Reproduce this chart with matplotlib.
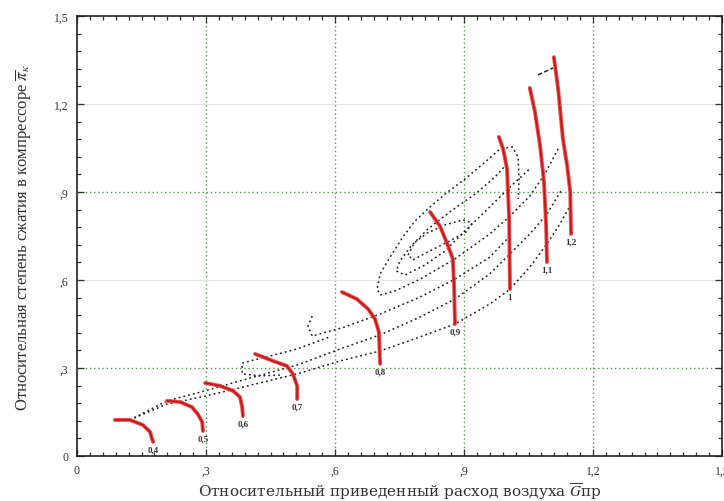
import numpy as np
import matplotlib
matplotlib.use("Agg")
import matplotlib.pyplot as plt

plt.rcParams['font.family'] = ['Liberation Serif', 'DejaVu Serif']
plt.rcParams['mathtext.fontset'] = 'stix'

# iso-speed lines (relative speed)
speed_labels = ['0,4', '0,5', '0,6', '0,7', '0,8', '0,9', '1', '1,1', '1,2']
speed_x = [
    [0.088, 0.123, 0.153, 0.170, 0.174, 0.177],
    [0.209, 0.240, 0.267, 0.281, 0.291, 0.293],
    [0.298, 0.333, 0.363, 0.379, 0.384, 0.386],
    [0.414, 0.456, 0.488, 0.502, 0.512, 0.512],
    [0.616, 0.651, 0.677, 0.693, 0.702, 0.705],
    [0.821, 0.844, 0.863, 0.874, 0.877, 0.879],
    [0.981, 0.991, 1.000, 1.005, 1.007],
    [1.053, 1.065, 1.077, 1.086, 1.091, 1.093],
    [1.109, 1.119, 1.130, 1.140, 1.147, 1.149],
]
speed_y = [
    [0.123, 0.123, 0.106, 0.082, 0.061, 0.048],
    [0.188, 0.184, 0.167, 0.143, 0.116, 0.085],
    [0.249, 0.239, 0.222, 0.201, 0.167, 0.136],
    [0.348, 0.324, 0.307, 0.280, 0.239, 0.194],
    [0.559, 0.535, 0.501, 0.467, 0.423, 0.314],
    [0.832, 0.784, 0.716, 0.672, 0.580, 0.450],
    [1.088, 1.047, 0.979, 0.808, 0.569],
    [1.255, 1.173, 1.057, 0.934, 0.784, 0.661],
    [1.360, 1.251, 1.081, 0.989, 0.900, 0.757],
]

# efficiency contours (dotted)
outer_x = [1.119, 1.088, 1.053, 1.007, 0.960, 0.879, 0.798, 0.740, 0.705, 0.698, 0.705,
           0.728, 0.758, 0.786, 0.821, 0.856, 0.902, 0.949, 0.984, 1.012, 1.026, 1.028, 1.026]
outer_y = [1.047, 0.961, 0.886, 0.818, 0.757, 0.672, 0.603, 0.563, 0.549, 0.569, 0.621,
           0.678, 0.747, 0.801, 0.849, 0.893, 0.944, 1.002, 1.047, 1.054, 1.019, 0.944, 0.876]
mid_x = [1.000, 0.972, 0.926, 0.867, 0.816, 0.779, 0.751, 0.742, 0.763, 0.809, 0.856,
         0.902, 0.960, 1.007, 1.053]
mid_y = [0.996, 0.951, 0.893, 0.832, 0.774, 0.719, 0.665, 0.631, 0.617, 0.651, 0.699,
         0.767, 0.849, 0.917, 0.979]
inner_x = [0.770, 0.784, 0.814, 0.856, 0.898, 0.919, 0.905, 0.863, 0.816, 0.781, 0.770]
inner_y = [0.685, 0.726, 0.760, 0.788, 0.805, 0.794, 0.764, 0.730, 0.696, 0.668, 0.685]
low1_x = [0.123, 0.209, 0.298, 0.386, 0.512, 0.612, 0.705, 0.798, 0.879, 0.960, 1.007,
          1.053, 1.093, 1.123, 1.149]
low1_y = [0.123, 0.177, 0.204, 0.235, 0.280, 0.324, 0.358, 0.406, 0.450, 0.518, 0.569,
          0.644, 0.723, 0.791, 0.859]
low2_x = [0.123, 0.209, 0.298, 0.386, 0.512, 0.612, 0.705, 0.798, 0.879, 0.960, 1.007,
          1.053, 1.093, 1.128]
low2_y = [0.123, 0.188, 0.222, 0.259, 0.310, 0.365, 0.413, 0.474, 0.535, 0.621, 0.689,
          0.757, 0.825, 0.910]
low3_x = [0.472, 0.426, 0.384, 0.384, 0.449, 0.512, 0.588]
low3_y = [0.276, 0.273, 0.280, 0.317, 0.341, 0.365, 0.406]
low4_x = [0.547, 0.537, 0.547, 0.623, 0.705, 0.798, 0.879, 0.960, 1.007]
low4_y = [0.477, 0.443, 0.409, 0.440, 0.484, 0.542, 0.603, 0.678, 0.750]
surge_x = [1.072, 1.107]
surge_y = [1.299, 1.323]

ticks = [0, 0.3, 0.6, 0.9, 1.2, 1.5]
tick_labels = ['0', ',3', ',6', ',9', '1,2', '1,5']

fig = plt.figure(figsize=(7.24, 5.02), dpi=100)
ax = fig.add_axes([77/724, 45/502, 645/724, 440/502])

green = '#4f9a4f'
for v in [0.3, 0.6, 0.9, 1.2]:
    ax.axvline(v, color=green, lw=1.0, ls=(0, (1, 2)), zorder=0)
for v in [0.3, 0.9]:
    ax.axhline(v, color=green, lw=1.0, ls=(0, (1, 2)), zorder=0)
for v in [0.6, 1.2]:
    ax.axhline(v, color='#e4e4e4', lw=0.8, zorder=0)

dot = dict(color='#1e1e1e', lw=1.1, ls=(0, (1.2, 2.0)), zorder=2)
for xs, ys in [(outer_x, outer_y), (mid_x, mid_y), (inner_x, inner_y),
               (low1_x, low1_y), (low2_x, low2_y), (low3_x, low3_y),
               (low4_x, low4_y)]:
    ax.plot(xs, ys, **dot)
ax.plot(surge_x, surge_y, color='#222222', lw=1.1, ls=(0, (3, 1.5)), zorder=2)

for xs, ys, lab in zip(speed_x, speed_y, speed_labels):
    ax.plot(xs, ys, color='#f05050', lw=2.8, solid_capstyle='round', zorder=3)
    ax.plot(xs, ys, color='#c01818', lw=1.3, solid_capstyle='round', zorder=3)
    ax.text(xs[-1], ys[-1] - 0.012, lab, ha='center', va='top', fontsize=6.5,
            fontweight='bold', color='#333333', zorder=4)

ax.set_xlim(0, 1.5)
ax.set_ylim(0, 1.5)
ax.set_xticks(ticks)
ax.set_xticklabels(tick_labels)
ax.set_yticks(ticks)
ax.set_yticklabels(tick_labels)
ax.set_xticks(np.arange(0, 1.501, 0.03), minor=True)
ax.set_yticks(np.arange(0, 1.501, 0.06), minor=True)
ax.tick_params(which='both', direction='in', top=True, right=True, labelsize=8.5,
               colors='#333333', width=0.9)
ax.tick_params(which='major', length=5, pad=6)
ax.tick_params(which='minor', length=3)
for s in ax.spines.values():
    s.set_linewidth(1.2)
    s.set_color('#222222')

ax.set_xlabel('Относительный приведенный расход воздуха $\\overline{G}$пр',
              fontsize=11, family=['DejaVu Serif'], color='#333333', labelpad=3)
ax.set_ylabel('Относительная степень сжатия в компрессоре $\\overline{\\pi}_{к}$',
              fontsize=12, color='#333333', labelpad=14)

fig.savefig('out.png', dpi=100)
